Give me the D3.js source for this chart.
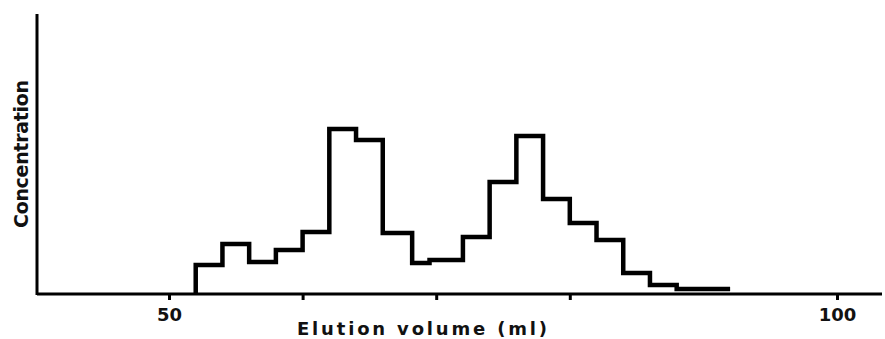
<!DOCTYPE html>
<html>
<head>
<meta charset="utf-8">
<script src="https://cdn.jsdelivr.net/npm/d3@7"></script>
<style>
  body { margin: 0; background: #fff; }
  text { font-family: "DejaVu Sans", sans-serif; fill: #111; font-weight: bold; }
</style>
</head>
<body>
<div id="chart"></div>
<script>
// bin edges (ml) and concentration of each bin (arbitrary units)
var binEdges = [52, 54, 56, 58, 60, 62, 64, 66, 68.2, 69.5, 72, 74, 76, 78, 80, 82, 84, 86, 88, 92];
var binValues = [10.4, 17.9, 11.4, 15.7, 22.1, 58.9, 55.0, 21.8, 11.1, 12.1, 20.4, 40.0, 56.4, 33.9, 25.4, 19.3, 7.5, 3.2, 1.8];
var tickValues = [50, 60, 70, 80, 100];
var tickLabels = ["50", "", "", "", "100"];
var xLabel = "Elution volume (ml)";
var yLabel = "Concentration";

var width = 885, height = 339;
var margin = { top: 14, right: 3, bottom: 45, left: 37 };

var x = d3.scaleLinear().domain([50, 100]).range([169, 837]);
var y = d3.scaleLinear().domain([0, 100]).range([height - margin.bottom, margin.top]);

var svg = d3.select("#chart").append("svg")
  .attr("width", width)
  .attr("height", height);

// step outline of the elution profile
var pts = [[binEdges[0], 0]];
binValues.forEach(function (v, i) {
  pts.push([binEdges[i], v]);
  pts.push([binEdges[i + 1], v]);
});
var line = d3.line()
  .x(function (d) { return x(d[0]); })
  .y(function (d) { return y(d[1]); });

svg.append("path")
  .datum(pts)
  .attr("d", line)
  .attr("fill", "none")
  .attr("stroke", "#000")
  .attr("stroke-width", 4.5)
  .attr("stroke-linejoin", "miter");

// x axis
var xAxis = d3.axisBottom(x)
  .tickValues(tickValues)
  .tickSize(6)
  .tickFormat(function (d, i) { return tickLabels[i]; });

var xg = svg.append("g")
  .attr("transform", "translate(0," + y(0) + ")")
  .call(xAxis);
xg.select(".domain").remove();
xg.selectAll(".tick line").attr("stroke", "#000").attr("stroke-width", 3);
xg.selectAll(".tick text")
  .attr("y", 14)
  .style("font-size", "18px")
  .attr("fill", "#111");

svg.append("line")
  .attr("x1", margin.left).attr("x2", width - margin.right)
  .attr("y1", y(0)).attr("y2", y(0))
  .attr("stroke", "#000").attr("stroke-width", 3);

// y axis
svg.append("line")
  .attr("x1", margin.left).attr("x2", margin.left)
  .attr("y1", y(100)).attr("y2", y(0) + 1)
  .attr("stroke", "#000").attr("stroke-width", 3);

// labels
svg.append("text")
  .attr("x", 297)
  .attr("y", 335)
  .attr("textLength", 250)
  .attr("lengthAdjust", "spacing")
  .style("font-size", "18px")
  .text(xLabel);

svg.append("text")
  .attr("transform", "translate(28,228) rotate(-90)")
  .attr("textLength", 148)
  .attr("lengthAdjust", "spacing")
  .style("font-size", "19px")
  .text(yLabel);
</script>
</body>
</html>
